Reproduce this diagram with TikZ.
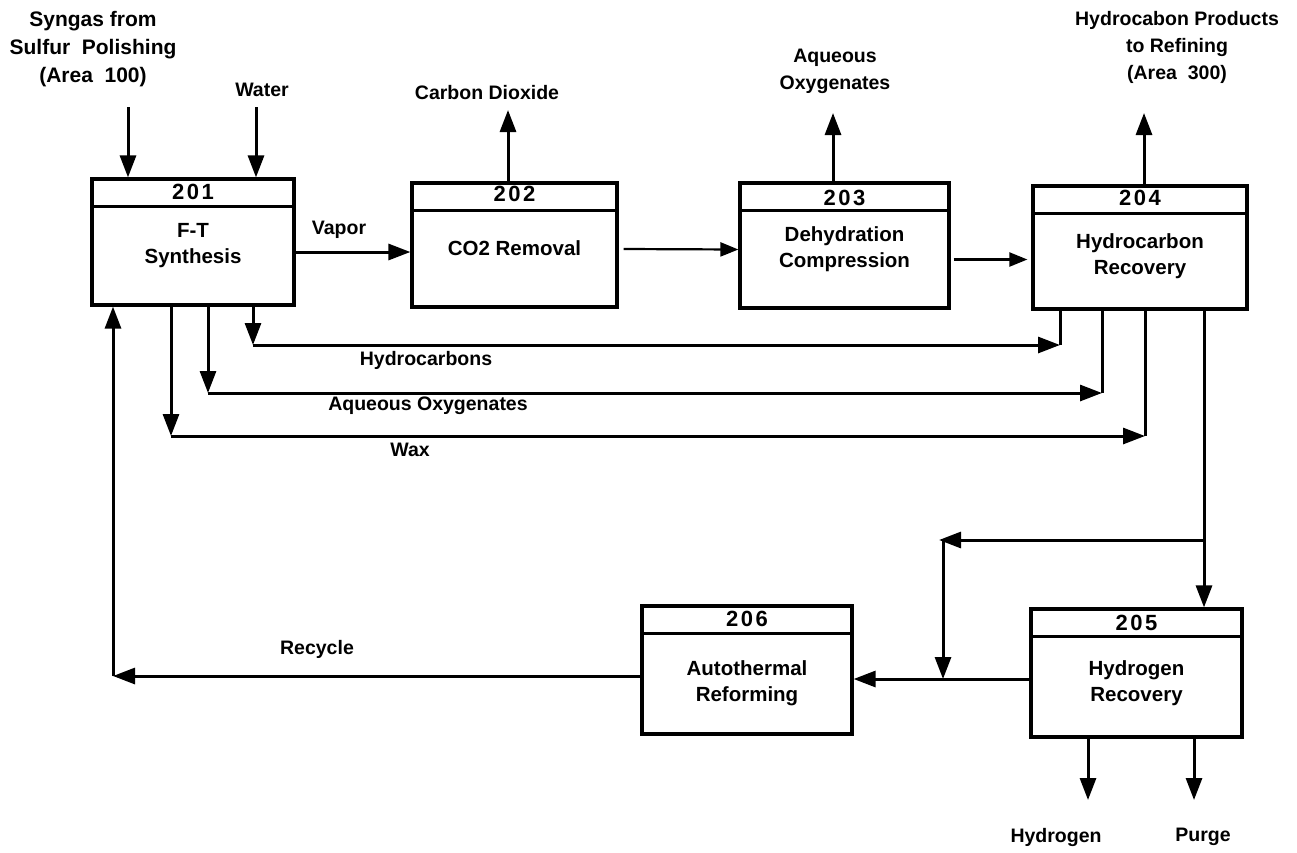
\documentclass[tikz,border=0pt]{standalone}
\usepackage{fontspec}
\setmainfont{Liberation Sans}
\usetikzlibrary{arrows.meta,calc}
\newcommand{\dg}{\kern2.5pt}
\begin{document}
\begin{tikzpicture}[x=1pt,y=-1pt,
  line width=3pt,
  arr/.style={-{Triangle[length=22pt,width=16pt]}},
  thinarr/.style={line width=2.2pt,-{Triangle[length=18pt,width=14pt]}},
  box/.style={draw,line width=3.2pt,rectangle,inner sep=0pt},
  num/.style={font=\fontsize{22}{26}\selectfont\bfseries},
  body/.style={font=\fontsize{20.5}{26}\selectfont\bfseries,align=center},
  lab/.style={font=\fontsize{19.5}{27}\selectfont\bfseries,align=center},
  biglab/.style={font=\fontsize{21}{28}\selectfont\bfseries,align=center},
]
\useasboundingbox[fill=white] (0,0) rectangle (1297,852);

% boxes
\node[box,minimum width=202pt,minimum height=126pt] (b201) at (193,242) {};
\node[box,minimum width=205pt,minimum height=124pt] (b202) at (514.5,245) {};
\node[box,minimum width=209pt,minimum height=125pt] (b203) at (844.5,245.5) {};
\node[box,minimum width=214pt,minimum height=123pt] (b204) at (1140,247.5) {};
\node[box,minimum width=211pt,minimum height=128pt] (b205) at (1136.5,673) {};
\node[box,minimum width=210pt,minimum height=128pt] (b206) at (747,670) {};

\foreach \b in {b201,b202,b203,b204,b205,b206}{
  \draw[line width=2.4pt] ($(\b.north west)+(0,29)$) -- ($(\b.north east)+(0,29)$);
}

% box texts
\node[num] (n201) at ($(b201.north)+(0,15)$) {2\dg0\dg1};
\node[num] (n202) at ($(b202.north)+(0,13)$) {2\dg0\dg2};
\node[num] (n203) at ($(b203.north)+(0,17)$) {2\dg0\dg3};
\node[num] (n204) at ($(b204.north)+(0,14)$) {2\dg0\dg4};
\node[num] (n205) at ($(b205.north)+(0,16)$) {2\dg0\dg5};
\node[num] (n206) at ($(b206.north)+(0,15)$) {2\dg0\dg6};

\node[body] (t201) at ($(b201.north)+(0,68)$) {F-T\\Synthesis};
\node[body] (t202) at ($(b202.north)+(0,67)$) {CO2 Removal};
\node[body] (t203) at ($(b203.north)+(0,68)$) {Dehydration\\Compression};
\node[body] (t204) at ($(b204.north)+(0,72)$) {Hydrocarbon\\Recovery};
\node[body] (t205) at ($(b205.north)+(0,76)$) {Hydrogen\\Recovery};
\node[body] (t206) at ($(b206.north)+(0,79)$) {Autothermal\\Reforming};

% external labels
\node[biglab] (lsyn) at (93,49) {Syngas from\\Sulfur\ \ Polishing\\(Area\ \ 100)};
\node[lab] (lwat) at (262,90) {Water};
\node[lab] (lco2) at (487,93) {Carbon Dioxide};
\node[lab] (laqo) at (835,71) {Aqueous\\Oxygenates};
\node[lab] (lhcp) at (1177,47) {Hydrocabon Products\\to Refining\\(Area\ \ 300)};
\node[lab] (lvap) at (339,230) {Vapor};
\node[lab] (lhyd) at (426,360) {Hydrocarbons};
\node[lab] (laq2) at (428,406) {Aqueous Oxygenates};
\node[lab] (lwax) at (410,450) {Wax};
\node[lab] (lrec) at (317,649) {Recycle};
\node[lab] (lh2) at (1056,837) {Hydrogen};
\node[lab] (lpur) at (1203,837) {Purge};

% coordinates
\coordinate (sIn) at (128,107);
\coordinate (wIn) at (256,107);
\coordinate (co2) at (508,110);
\coordinate (aqo) at (833,113);
\coordinate (hcp) at (1144,113);
\coordinate (h1) at (253,345);
\coordinate (h2) at (1060,345);
\coordinate (a1) at (208,393);
\coordinate (a2) at (1102,393);
\coordinate (w1) at (171,436);
\coordinate (w2) at (1145,436);
\coordinate (br) at (1204,540);
\coordinate (bc) at (943,540);
\coordinate (jn) at (943,679);
\coordinate (rc) at (113,676);
\coordinate (h2o) at (1088,800);
\coordinate (pg) at (1194,800);

% inputs
\draw[arr] (sIn) -- (sIn |- b201.north);
\draw[arr] (wIn) -- (wIn |- b201.north);

% main train
\draw[arr] ([yshift=-10pt]b201.east) -- ([yshift=-7pt]b202.west);
\draw[thinarr] ([xshift=5pt,yshift=-4pt]b202.east) -- ([yshift=-4pt]b203.west);
\draw[thinarr] ([xshift=3pt,yshift=-14pt]b203.east) -- ([xshift=-4pt,yshift=-12pt]b204.west);

% outputs up
\draw[arr] (b202.north -| co2) -- (co2);
\draw[arr] (b203.north -| aqo) -- (aqo);
\draw[arr] (b204.north -| hcp) -- (hcp);

% side streams
\draw[arr] (b201.south -| h1) -- (h1);
\draw[arr] (h1) -- (h2);
\draw (h2) -- (b204.south -| h2);
\draw[arr] (b201.south -| a1) -- (a1);
\draw[arr] (a1) -- (a2);
\draw (a2) -- (b204.south -| a2);
\draw[arr] (b201.south -| w1) -- (w1);
\draw[arr] (w1) -- (w2);
\draw (w2) -- (b204.south -| w2);

% to hydrogen recovery and bypass
\draw[arr] (b204.south -| br) -- (br |- b205.north);
\draw[arr] (br) -- ([xshift=-4pt]bc);
\draw[arr] (bc) -- (jn);
\draw (b205.west |- jn) -- (jn);
\draw[arr] (jn) -- (b206.east |- jn);

% recycle
\draw[arr] (b206.west |- rc) -- (rc);
\draw[arr] (rc) -- (b201.south -| rc);

% hydrogen recovery outputs
\draw[arr] (b205.south -| h2o) -- (h2o);
\draw[arr] (b205.south -| pg) -- (pg);
\end{tikzpicture}
\end{document}
